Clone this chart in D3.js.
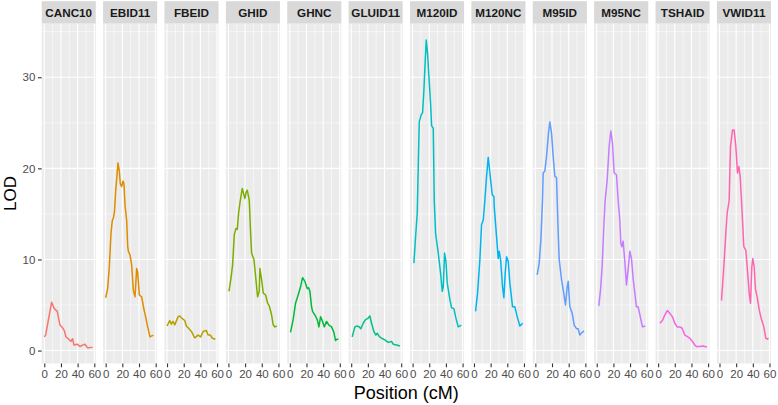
<!DOCTYPE html>
<html>
<head>
<meta charset="utf-8">
<script src="https://cdn.jsdelivr.net/npm/d3@7"></script>
<style>
  body { margin: 0; background: #fff; }
  svg { display: block; font-family: "Liberation Sans", Arial, sans-serif; }
</style>
</head>
<body>
<div id="chart"></div>
<script>
// trait names (facet order)
const traits = ["CANC10", "EBID11", "FBEID", "GHID", "GHNC", "GLUID11",
                "M120ID", "M120NC", "M95ID", "M95NC", "TSHAID", "VWID11"];

// LOD profiles: [position cM, LOD]
const canc10 = [[0,1.5],[1.6,1.7],[4.8,3.3],[8.8,5.3],[12,4.6],[15.6,4.3],[18.8,2.8],[22,2.5],[24,2.2],[26,1.5],[28.8,1.3],[32,1.0],[34,1.3],[35.6,0.6],[39.6,0.7],[42.8,0.45],[46,0.6],[48.8,0.7],[52,0.3],[58,0.35]];
const ebid11 = [[0,5.8],[2.4,6.8],[4.4,9.2],[6.4,12.9],[8,14.3],[9.2,14.5],[10.5,15.2],[12,17.5],[14.8,20.6],[16.2,19.8],[17.6,18.3],[19.2,18.0],[20.8,18.6],[22,18.3],[23.2,16],[25.2,14.3],[26.4,11.5],[27.2,10.9],[29.2,10.5],[31.2,9.4],[33.2,6.6],[35.2,5.9],[37.2,9.0],[38.4,8.6],[40.4,6.1],[43.2,5.9],[46,4.5],[48,3.7],[50.4,2.6],[53.2,1.5],[57.2,1.7]];
const fbeid = [[0,2.7],[3.2,3.3],[5.2,2.9],[7.2,3.2],[9.2,2.8],[13.2,3.7],[15.2,3.8],[18.4,3.5],[21.2,3.3],[23.2,2.7],[26.4,2.4],[29.2,2.1],[33.2,1.4],[37.2,1.7],[40.4,1.5],[43.2,2.1],[47.2,2.2],[49.2,1.7],[52,1.7],[54.4,1.35],[58,1.25]];
const ghid = [[0.6,6.5],[3,7.9],[5,9.4],[7,12.7],[9,13.4],[10.6,13.3],[12.2,15.1],[13.8,16.2],[16.6,17.8],[18.2,17.2],[19.8,16.7],[21.2,17.4],[22.6,17.6],[25,16.5],[26.6,12.9],[27.8,10.7],[30.6,10],[33,7.8],[35,5.9],[37,6.5],[37.8,9.0],[39.8,7.8],[41.8,6.3],[44.6,6.1],[47,5.2],[49,4.9],[51.8,3.9],[53.8,2.8],[55.8,2.6],[58,2.7]];
const ghnc = [[0.8,2.0],[4,3.4],[6.9,5.2],[10,6.1],[12.9,7.0],[15.3,8.0],[18.1,7.6],[20.9,6.8],[22.5,6.9],[24.1,6.5],[26.1,4.8],[27.3,4.3],[30.1,3.9],[32.9,3.4],[34.9,2.6],[36.9,3.7],[39.3,3.2],[41.3,2.6],[44.1,3.2],[46.9,2.8],[50.1,2.6],[52.9,2.0],[54.9,1.1],[56.5,1.25],[58.3,1.25]];
const gluid11 = [[1.2,1.5],[4.4,2.6],[7.2,2.7],[9.6,2.6],[11.6,2.4],[14.4,3.0],[17.2,3.4],[19.6,3.5],[22.4,3.8],[24.4,3.0],[27.2,2.1],[29.6,1.7],[31.2,1.9],[33.6,1.55],[36.4,1.35],[40.4,1.17],[44.4,0.9],[48.4,1.0],[50.4,0.7],[54.4,0.6],[58.5,0.5]];
const m120id = [[1.6,9.6],[3.6,12.5],[5.6,15.1],[7,21],[8,25.1],[10.4,25.9],[12,26.1],[13.6,28.6],[15.2,31.9],[16.4,34.1],[18,32.6],[19.6,30.1],[21.6,27.1],[22.8,24.7],[24.8,24.4],[26,16.5],[27.6,12.9],[30.8,10.7],[33.6,8.5],[35.6,6.5],[36.8,7.0],[38.4,10.7],[40,9.8],[41.6,7.4],[44.8,5.6],[46.8,4.7],[49.6,4.6],[51.6,3.7],[54.8,2.6],[58.5,2.8]];
const m120nc = [[1.9,4.3],[4.3,6.3],[7.1,10.0],[9.1,13.8],[11.1,14.3],[13.1,16.5],[15.1,19.1],[17.1,21.2],[19.1,19.5],[21.9,17.1],[23.9,16.9],[24.3,15.8],[27.1,12.5],[29.1,10.1],[30.3,10.9],[31.9,10.0],[34.3,7.0],[35.9,5.8],[37.5,8.5],[39.1,10.3],[41.1,9.8],[43.1,7.4],[46.3,4.8],[49.1,4.8],[51.9,3.7],[55.1,2.7],[58.5,3.0]];
const m95id = [[2.2,8.3],[4.6,9.6],[6.6,12.1],[8.6,16.5],[9.4,19.5],[11.4,19.7],[13.4,21.3],[15.8,23.9],[17.4,25.1],[19.4,23.9],[21.4,21.3],[23.4,19.1],[25.4,19.0],[26.2,16.5],[27.4,12.9],[28.6,10.0],[31.4,7.8],[33.4,6.7],[36.2,5.0],[38.2,7.0],[39.4,7.6],[41.4,4.8],[44.2,4.1],[46.6,2.8],[49.4,2.4],[51.4,2.4],[53.4,1.7],[56.2,2.0],[58.5,2.15]];
const m95nc = [[2.5,4.9],[4.5,6.6],[6.5,9.2],[8.5,13.6],[10.1,16.5],[12.5,18.7],[14.9,22.4],[16.9,24.1],[18.9,22.8],[20.9,19.5],[23.7,19.3],[25.7,16.5],[27.7,14.3],[28.9,11.8],[30.1,11.4],[31.7,12.0],[33.7,9.8],[35.7,7.2],[37.7,8.9],[39.7,10.9],[41.7,10.1],[43.7,7.9],[45.7,6.3],[47.7,4.8],[49.7,4.8],[52.5,3.6],[54.9,2.6],[58.3,2.7]];
const tshaid = [[2,3.0],[5.2,3.3],[8,3.9],[11.2,4.4],[14,4.1],[17.2,3.7],[20,3.0],[22.8,2.6],[26,2.6],[28.8,2.45],[32,1.7],[34.8,1.55],[38,1.35],[41.2,1.0],[44,0.6],[46,0.45],[50,0.45],[54,0.5],[56,0.45],[58.5,0.4]];
const vwid11 = [[2.4,5.5],[5.2,9.2],[7.6,12.9],[9.2,15.1],[11.6,16.5],[13.2,22.4],[15.6,24.2],[17.6,24.2],[19.6,22.4],[21.6,19.5],[23.2,20.2],[24.8,19.1],[26.4,16.5],[27.6,14.3],[29.2,11.4],[31.6,11.0],[33.2,9.2],[35.6,6.3],[37.2,5.2],[38.8,9.2],[40,10.1],[41.6,9.2],[43.2,6.7],[45.2,5.9],[47.6,4.5],[50.4,3.4],[53.2,2.6],[55.6,1.35],[57.5,1.25],[58.8,1.35]];

const profiles = [canc10, ebid11, fbeid, ghid, ghnc, gluid11,
                  m120id, m120nc, m95id, m95nc, tshaid, vwid11];

const xTicks = [0, 20, 40, 60];
const yTicks = [0, 10, 20, 30];

const width = 778, height = 405;
const plot = { left: 41.7, right: 771, top: 23.5, bottom: 363.5 };
const gap = 7.3, stripH = 22.3;
const panelW = (plot.right - plot.left - gap * (traits.length - 1)) / traits.length;

const colour = d3.scaleOrdinal()
    .domain(traits)
    .range(["#F8766D","#DE8C00","#B79F00","#7CAE00","#00BA38","#00C08B",
            "#00BFC4","#00B4F0","#619CFF","#C77CFF","#F564E3","#FF64B0"]);

const band = d3.scaleBand()
    .domain(traits)
    .range([plot.left, plot.right + gap])
    .paddingInner(0);

const xScale = d3.scaleLinear().domain([-3.1, 61.8]).range([0, panelW]);
const yScale = d3.scaleLinear().domain([-1.42, 35.9]).range([plot.bottom, plot.top]);

const svg = d3.select("#chart")
    .append("svg")
    .attr("width", width)
    .attr("height", height);

const line = d3.line()
    .x(d => xScale(d[0]))
    .y(d => yScale(d[1]));

traits.forEach((t, i) => {
    const g = svg.append("g")
        .attr("transform", `translate(${band(t)},0)`);

    // panel background
    g.append("rect")
        .attr("x", 0).attr("y", plot.top)
        .attr("width", panelW).attr("height", plot.bottom - plot.top)
        .attr("fill", "#EBEBEB");

    // minor grid
    [5, 15, 25, 35].forEach(v => {
        g.append("line")
            .attr("x1", 0).attr("x2", panelW)
            .attr("y1", yScale(v)).attr("y2", yScale(v))
            .attr("stroke", "#fff").attr("stroke-width", 0.55);
    });
    [10, 30, 50].forEach(v => {
        g.append("line")
            .attr("x1", xScale(v)).attr("x2", xScale(v))
            .attr("y1", plot.top).attr("y2", plot.bottom)
            .attr("stroke", "#fff").attr("stroke-width", 0.55);
    });
    // major grid
    yTicks.forEach(v => {
        g.append("line")
            .attr("x1", 0).attr("x2", panelW)
            .attr("y1", yScale(v)).attr("y2", yScale(v))
            .attr("stroke", "#fff").attr("stroke-width", 1.1);
    });
    xTicks.forEach(v => {
        g.append("line")
            .attr("x1", xScale(v)).attr("x2", xScale(v))
            .attr("y1", plot.top).attr("y2", plot.bottom)
            .attr("stroke", "#fff").attr("stroke-width", 1.1);
    });

    // strip
    g.append("rect")
        .attr("x", 0).attr("y", plot.top - stripH)
        .attr("width", panelW).attr("height", stripH)
        .attr("fill", "#D9D9D9");
    g.append("text")
        .attr("x", panelW / 2).attr("y", plot.top - stripH / 2)
        .attr("dy", "0.36em")
        .attr("text-anchor", "middle")
        .attr("font-size", "11.7px")
        .attr("font-weight", "bold")
        .attr("fill", "#1A1A1A")
        .text(t);

    // LOD curve
    g.append("path")
        .datum(profiles[i])
        .attr("d", line)
        .attr("fill", "none")
        .attr("stroke", colour(t))
        .attr("stroke-width", 1.5)
        .attr("stroke-linejoin", "round");

    // x axis
    const xa = g.append("g")
        .attr("transform", `translate(0,${plot.bottom})`)
        .call(d3.axisBottom(xScale).tickValues(xTicks).tickSize(3.7).tickPadding(2.6));
    xa.select(".domain").remove();
    xa.selectAll("line").attr("stroke", "#333333").attr("stroke-width", 1.1);
    xa.selectAll("text").attr("fill", "#4D4D4D")
        .attr("font-size", "11.5px")
        .attr("font-family", "Liberation Sans, Arial, sans-serif");
});

// y axis on the first panel
const ya = svg.append("g")
    .attr("transform", `translate(${plot.left},0)`)
    .call(d3.axisLeft(yScale).tickValues(yTicks).tickSize(3.7).tickPadding(2.6));
ya.select(".domain").remove();
ya.selectAll("line").attr("stroke", "#333333").attr("stroke-width", 1.1);
ya.selectAll("text").attr("fill", "#4D4D4D")
    .attr("font-size", "11.5px")
    .attr("font-family", "Liberation Sans, Arial, sans-serif");

// axis titles
svg.append("text")
    .attr("x", (plot.left + plot.right) / 2)
    .attr("y", 399)
    .attr("text-anchor", "middle")
    .attr("font-size", "18px")
    .attr("fill", "#000")
    .text("Position (cM)");

svg.append("text")
    .attr("transform", `translate(15.5,${(plot.top + plot.bottom) / 2}) rotate(-90)`)
    .attr("text-anchor", "middle")
    .attr("font-size", "17px")
    .attr("fill", "#000")
    .text("LOD");
</script>
</body>
</html>
